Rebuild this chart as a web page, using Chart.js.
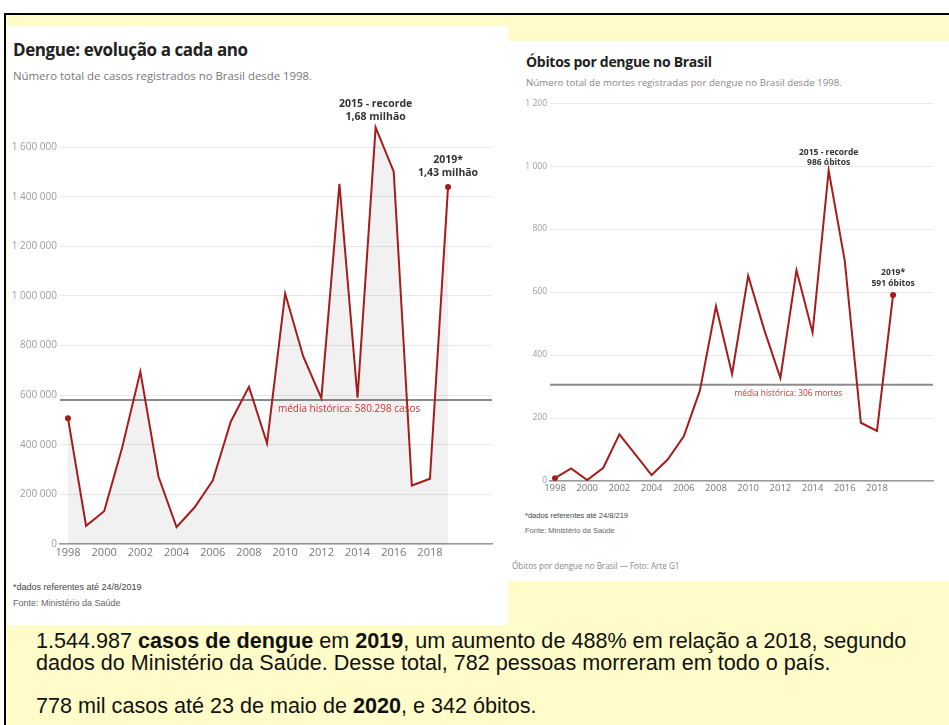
<!DOCTYPE html>
<html lang="pt-BR">
<head>
<meta charset="utf-8">
<title>Dengue no Brasil</title>
<script src="https://cdn.jsdelivr.net/npm/chart.js@4.4.1/dist/chart.umd.min.js"></script>
<style>
  html, body { margin: 0; padding: 0; background: #fff; }
  body { width: 949px; height: 725px; position: relative; overflow: hidden; font-family: 'Open Sans', sans-serif; }
  #slide { position: absolute; left: 4px; top: 13px; width: 945px; height: 712px; background: #fffcc9;
           border-top: 2px solid #000; border-left: 2px solid #000; box-sizing: border-box; }
  .panel { position: absolute; background: #fff; }
  .txt { position: absolute; white-space: nowrap; }
  canvas { position: absolute; }
  .note { font-family: 'Liberation Sans', Arial, sans-serif; font-size: 21.6px; color: #111; left: 36px; }
</style>
</head>
<body>
<div id="slide"></div>
<div class="panel" style="left:7px;top:26px;width:501px;height:599px"></div>
<div class="panel" style="left:508px;top:41px;width:441px;height:540px"></div>

<div class="txt" style="left:13px;top:40px;line-height:20px;font-size:17px;letter-spacing:-0.4px;font-weight:700;color:#222">Dengue: evolução a cada ano</div>
<div class="txt" style="left:13px;top:68px;line-height:16px;font-size:11.4px;color:#777">Número total de casos registrados no Brasil desde 1998.</div>
<canvas id="casesChart" width="501" height="480" style="left:7px;top:90px"></canvas>
<div class="txt" style="left:13px;top:581px;line-height:12px;font-family:'Liberation Sans',Arial;font-size:9px;color:#444">*dados referentes até 24/8/2019</div>
<div class="txt" style="left:13px;top:597px;line-height:12px;font-family:'Liberation Sans',Arial;font-size:9px;color:#666">Fonte: Ministério da Saúde</div>

<div class="txt" style="left:526px;top:53px;line-height:18px;font-size:14px;letter-spacing:-0.3px;font-weight:700;color:#222">Óbitos por dengue no Brasil</div>
<div class="txt" style="left:526px;top:76px;line-height:14px;font-size:9.7px;color:#888">Número total de mortes registradas por dengue no Brasil desde 1998.</div>
<canvas id="deathsChart" width="441" height="410" style="left:508px;top:95px"></canvas>
<div class="txt" style="left:525px;top:511px;line-height:10px;font-family:'Liberation Sans',Arial;font-size:7.5px;color:#444">*dados referentes até 24/8/219</div>
<div class="txt" style="left:525px;top:526px;line-height:10px;font-family:'Liberation Sans',Arial;font-size:7.5px;color:#666">Fonte: Ministério da Saúde</div>
<div class="txt" style="left:512px;top:560px;line-height:12px;font-size:8.1px;color:#888">Óbitos por dengue no Brasil — Foto: Arte G1</div>

<div class="txt note" style="top:629px;line-height:24px">1.544.987 <b>casos de dengue</b> em <b>2019</b>, um aumento de 488% em relação a 2018, segundo</div>
<div class="txt note" style="top:651px;line-height:24px">dados do Ministério da Saúde. Desse total, 782 pessoas morreram em todo o país.</div>
<div class="txt note" style="top:694px;line-height:24px">778 mil casos até 23 de maio de <b>2020</b>, e 342 óbitos.</div>

<script>
// dados (G1 / Ministério da Saúde)
const YEARS = [1998, 1999, 2000, 2001, 2002, 2003, 2004, 2005, 2006, 2007, 2008, 2009, 2010, 2011, 2012, 2013, 2014, 2015, 2016, 2017, 2018, 2019];
const CASES = [507000, 73000, 132000, 390000, 695000, 272000, 68000, 148000, 256000, 494000, 634000, 406000, 1010000, 756000, 588000, 1452000, 590000, 1680000, 1501000, 236000, 263000, 1439000];
const DEATHS = [9, 40, 3, 42, 148, 84, 19, 68, 142, 287, 555, 340, 652, 480, 327, 669, 471, 986, 699, 185, 159, 591];
const YEAR_TICKS = [1998, 2000, 2002, 2004, 2006, 2008, 2010, 2012, 2014, 2016, 2018];
const CASE_TICKS = [0, 200000, 400000, 600000, 800000, 1000000, 1200000, 1400000, 1600000];
const DEATH_TICKS = [0, 200, 400, 600, 800, 1000, 1200];
const CASES_AVG = 580298;
const DEATHS_AVG = 306;

const LINE_RED = '#a51d1b';
const spaced = (v) => String(v).replace(/\B(?=(\d{3})+(?!\d))/g, ' ');
const toPoints = (values) => YEARS.map((year, i) => ({ x: year, y: values[i] }));

// linha da média, rótulo e destaques de 2015 / 2019
const refLayer = {
  id: 'refLayer',
  beforeDatasetsDraw(chart, args, opts) {
    const { ctx, chartArea, scales } = chart;
    const y = scales.y.getPixelForValue(opts.avg);
    ctx.save();
    ctx.strokeStyle = '#8c8c8c';
    ctx.lineWidth = 2;
    ctx.beginPath();
    ctx.moveTo(chartArea.left, y);
    ctx.lineTo(chartArea.right, y);
    ctx.stroke();
    ctx.restore();
  },
  afterDatasetsDraw(chart, args, opts) {
    const { ctx, scales } = chart;
    ctx.save();
    ctx.fillStyle = '#c8372d';
    ctx.font = `${opts.avgSize}px "Open Sans"`;
    ctx.textAlign = opts.avgAlign;
    ctx.textBaseline = 'middle';
    ctx.fillText(opts.avgLabel, scales.x.getPixelForValue(opts.avgAt), scales.y.getPixelForValue(opts.avg) + 9);

    ctx.fillStyle = '#333';
    ctx.font = `bold ${opts.noteSize}px "Open Sans"`;
    ctx.textAlign = 'center';
    opts.notes.forEach((note) => {
      const i = YEARS.indexOf(note.year);
      const px = scales.x.getPixelForValue(note.year);
      const py = scales.y.getPixelForValue(opts.values[i]);
      ctx.fillText(note.lines[0], px, py - note.gap[0]);
      ctx.fillText(note.lines[1], px, py - note.gap[1]);
    });
    ctx.restore();
  }
};

function makeChart(canvasId, cfg) {
  const last = YEARS.length - 1;
  return new Chart(document.getElementById(canvasId), {
    type: 'line',
    data: {
      datasets: [{
        data: toPoints(cfg.values),
        borderColor: LINE_RED,
        borderWidth: 2,
        tension: 0,
        fill: cfg.fill ? 'origin' : false,
        backgroundColor: 'rgba(0,0,0,0.055)',
        pointRadius: (c) => (c.dataIndex === 0 || c.dataIndex === last ? 3 : 0),
        pointBackgroundColor: LINE_RED,
        pointBorderWidth: 0
      }]
    },
    options: {
      responsive: false,
      animation: false,
      layout: { padding: cfg.padding },
      plugins: {
        legend: { display: false },
        tooltip: { enabled: false },
        refLayer: cfg.ref
      },
      scales: {
        x: {
          type: 'linear',
          min: cfg.xMin,
          max: cfg.xMax,
          afterBuildTicks: (s) => { s.ticks = YEAR_TICKS.map((v) => ({ value: v })); },
          afterFit: (s) => { s.height = cfg.xHeight; },
          grid: { display: false, drawTicks: false },
          border: { color: '#9a9a9a', width: 1.5 },
          ticks: { callback: (v) => String(v), color: '#777', font: { family: 'Open Sans', size: cfg.xFont }, padding: 2, maxRotation: 0, autoSkip: false }
        },
        y: {
          min: 0,
          max: cfg.yMax,
          afterBuildTicks: (s) => { s.ticks = cfg.yTicks.map((v) => ({ value: v })); },
          afterFit: (s) => { s.width = cfg.yWidth; },
          grid: { color: '#e8e8e8', drawTicks: false },
          border: { display: false },
          ticks: { callback: (v) => spaced(v), color: '#9c9c9c', font: { family: 'Open Sans', size: cfg.yFont }, padding: 3 }
        }
      }
    },
    plugins: [refLayer]
  });
}

makeChart('casesChart', {
  values: CASES,
  fill: true,
  padding: { top: 17.5, right: 16, left: 0, bottom: 0 },
  xMin: 1997.56, xMax: 2021.43, xHeight: 26, xFont: 11,
  yMax: 1760000, yTicks: CASE_TICKS, yWidth: 53, yFont: 10,
  ref: {
    avg: CASES_AVG, values: CASES,
    avgLabel: 'média histórica: 580.298 casos', avgAt: 2009.6, avgAlign: 'left', avgSize: 10,
    noteSize: 10.5,
    notes: [
      { year: 2015, lines: ['2015 - recorde', '1,68 milhão'], gap: [23, 10] },
      { year: 2019, lines: ['2019*', '1,43 milhão'], gap: [27, 14] }
    ]
  }
});

makeChart('deathsChart', {
  values: DEATHS,
  fill: false,
  padding: { top: 6.5, right: 16, left: 0, bottom: 0 },
  xMin: 1997.69, xMax: 2021.48, xHeight: 24, xFont: 9.5,
  yMax: 1200, yTicks: DEATH_TICKS, yWidth: 42, yFont: 8.5,
  ref: {
    avg: DEATHS_AVG, values: DEATHS,
    avgLabel: 'média histórica: 306 mortes', avgAt: 2012.5, avgAlign: 'center', avgSize: 8.3,
    noteSize: 8.5,
    notes: [
      { year: 2015, lines: ['2015 - recorde', '986 óbitos'], gap: [18, 8] },
      { year: 2019, lines: ['2019*', '591 óbitos'], gap: [22, 11] }
    ]
  }
});
</script>
</body>
</html>
